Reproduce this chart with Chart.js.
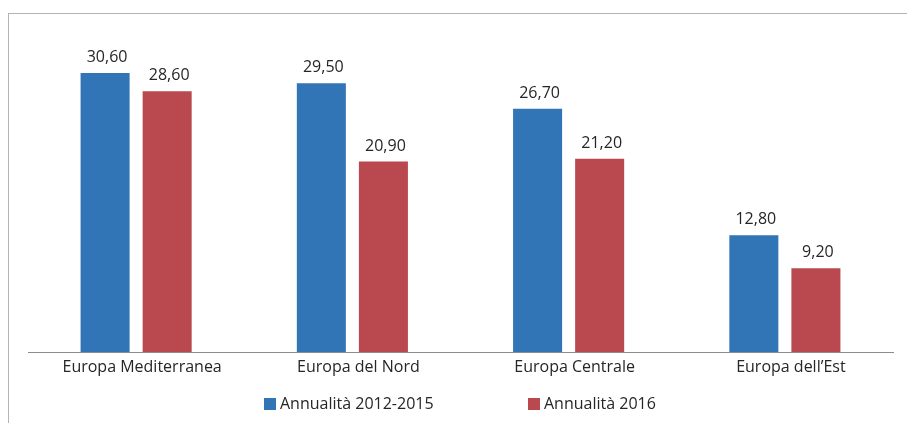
<!DOCTYPE html>
<html>
<head>
<meta charset="utf-8">
<script src="https://cdn.jsdelivr.net/npm/chart.js@4/dist/chart.umd.min.js"></script>
<style>
  html, body { margin: 0; padding: 0; background: #fff; }
  #wrap { position: relative; width: 907px; height: 423px; }
</style>
</head>
<body>
<div id="wrap"><canvas id="grafico"></canvas></div>
<script>
// Dati
const categorie = ['Europa Mediterranea', 'Europa del Nord', 'Europa Centrale', 'Europa dell\u2019Est'];
const serie2012_2015 = [30.6, 29.5, 26.7, 12.8];
const serie2016 = [28.6, 20.9, 21.2, 9.2];
const nomiSerie = ['Annualit\u00e0 2012-2015', 'Annualit\u00e0 2016'];
const colori = ['#3175b6', '#b9494f'];

const FONT = 'Open Sans';
const testo = '#262626';

// cornice grigia
const cornice = {
  id: 'cornice',
  beforeDraw(chart) {
    const ctx = chart.ctx;
    ctx.save();
    ctx.strokeStyle = '#b4b4b4';
    ctx.lineWidth = 1;
    ctx.strokeRect(8.5, 13.5, 1000, 500);
    ctx.restore();
  }
};

// etichette sopra le barre
const etichette = {
  id: 'etichette',
  afterDatasetsDraw(chart) {
    const ctx = chart.ctx;
    ctx.save();
    ctx.font = '16px "' + FONT + '"';
    ctx.fillStyle = testo;
    ctx.textAlign = 'center';
    ctx.textBaseline = 'alphabetic';
    chart.data.datasets.forEach((ds, i) => {
      chart.getDatasetMeta(i).data.forEach((bar, j) => {
        ctx.fillText(ds.data[j].toFixed(2).replace('.', ','), bar.x + 2, bar.y - 11);
      });
    });
    ctx.restore();
  }
};

// legenda in basso
const legenda = {
  id: 'legenda',
  afterDraw(chart) {
    const ctx = chart.ctx;
    ctx.save();
    ctx.font = '16px "' + FONT + '"';
    ctx.textBaseline = 'middle';
    const posX = [264, 528];
    chart.data.datasets.forEach((ds, i) => {
      ctx.fillStyle = ds.backgroundColor;
      ctx.fillRect(posX[i], 398, 12, 12);
      ctx.fillStyle = testo;
      ctx.fillText(ds.label, posX[i] + 16, 404);
    });
    ctx.restore();
  }
};

new Chart(document.getElementById('grafico'), {
  type: 'bar',
  data: {
    labels: categorie,
    datasets: [
      { label: nomiSerie[0], data: serie2012_2015, backgroundColor: colori[0] },
      { label: nomiSerie[1], data: serie2016, backgroundColor: colori[1] }
    ]
  },
  options: {
    responsive: true,
    maintainAspectRatio: false,
    animation: false,
    categoryPercentage: 0.574,
    barPercentage: 0.79,
    layout: { padding: { left: 28, right: 14, top: 33, bottom: 0 } },
    plugins: {
      legend: { display: false },
      tooltip: { enabled: false }
    },
    scales: {
      x: {
        grid: { display: false, drawTicks: false },
        border: { display: true, color: '#8c8c8c', width: 1 },
        ticks: { color: testo, font: { family: FONT, size: 16 }, padding: 6, labelOffset: 6, maxRotation: 0 },
        afterFit: s => { s.height = 71; }
      },
      y: {
        display: false,
        min: 0,
        max: 35
      }
    }
  },
  plugins: [cornice, etichette, legenda]
});
</script>
</body>
</html>
